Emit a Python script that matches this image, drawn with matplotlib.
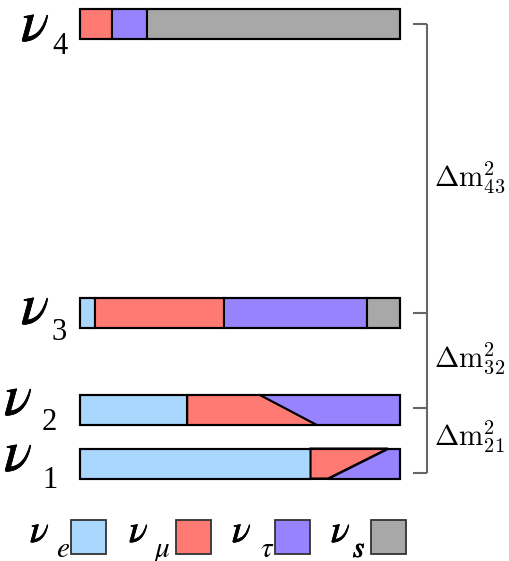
import matplotlib
matplotlib.use("Agg")
import matplotlib.pyplot as plt
from matplotlib.patches import Polygon, Rectangle
import matplotlib.patheffects as pe

plt.rcParams['mathtext.fontset'] = 'stix'

# ---- data ----
states = ["4", "3", "2", "1"]
flavor_subs = ["e", r"\mu", r"\tau", "s"]
colors = ["#a9d7fe", "#ff7a72", "#9883fe", "#a8a8a8"]
# flavour fractions (nu_e, nu_mu, nu_tau, nu_s) for the rows with plain segments
frac_nu4 = [0.0, 0.10, 0.107, 0.793]
frac_nu3 = [0.045, 0.405, 0.447, 0.103]
# rows with a CP-phase dependent mu/tau split: nu_e fraction, mu/tau boundary at top and bottom
nu2_e, nu2_split_top, nu2_split_bot = 0.334, 0.5625, 0.74
nu1_e, nu1_split_top, nu1_split_bot = 0.72, 0.9625, 0.775
splittings = ["43", "32", "21"]

# ---- layout ----
W, H = 510, 561
fig = plt.figure(figsize=(W / 100, H / 100), dpi=100)
x0_px, x1_px = 80.5, 400.0
ax = fig.add_axes([0, 0, 1, 1])
ax.set_xlim((0 - x0_px) / (x1_px - x0_px), (W - x0_px) / (x1_px - x0_px))
ax.set_ylim(H, 0)
ax.axis("off")
ov = fig.add_axes([0, 0, 1, 1], zorder=5)
ov.set_xlim(0, W)
ov.set_ylim(H, 0)
ov.axis("off")
ov.patch.set_alpha(0)

row_y = {"4": 24, "3": 313, "2": 410, "1": 463.5}
bar_h = 30
edge_lw = 1.5


def stacked(y, fr):
    left = 0.0
    for f, c in zip(fr, colors):
        if f > 0:
            ax.barh(y, f, left=left, height=bar_h, color=c, edgecolor="black", linewidth=edge_lw)
        left += f


def split_row(y, e, top, bot):
    t, b = y - bar_h / 2, y + bar_h / 2
    ax.barh(y, e, left=0, height=bar_h, color=colors[0], edgecolor="black", linewidth=edge_lw)
    ax.add_patch(Polygon([(e, t), (top, t), (bot, b), (e, b)], closed=True,
                         facecolor=colors[1], edgecolor="black", linewidth=edge_lw))
    ax.add_patch(Polygon([(top, t), (1, t), (1, b), (bot, b)], closed=True,
                         facecolor=colors[2], edgecolor="black", linewidth=edge_lw))
    ax.add_patch(Rectangle((0, t), 1, bar_h, fill=False, edgecolor="black", linewidth=edge_lw))


stacked(row_y["4"], frac_nu4)
stacked(row_y["3"], frac_nu3)
split_row(row_y["2"], nu2_e, nu2_split_top, nu2_split_bot)
split_row(row_y["1"], nu1_e, nu1_split_top, nu1_split_bot)
for k in ["4", "3"]:
    ax.add_patch(Rectangle((0, row_y[k] - bar_h / 2), 1, bar_h, fill=False,
                           edgecolor="black", linewidth=edge_lw))

serif = "Liberation Serif"
thick = [pe.withStroke(linewidth=0.5, foreground="black")]
# state labels: nu glyph + lowered subscript digit
nu_x = {"4": 21, "3": 21, "2": 4, "1": 4}
nu_base = {"4": 41, "3": 324, "2": 415, "1": 471}
sub_x = {"4": 52, "3": 52, "2": 42, "1": 42}
sub_base = {"4": 54, "3": 340, "2": 430, "1": 488}
for s in states:
    ov.text(nu_x[s], nu_base[s], r"$\nu$", fontsize=42, ha="left", va="baseline",
            path_effects=thick)
    ov.text(sub_x[s], sub_base[s], s, fontsize=22, family=serif, ha="left", va="baseline")

# bracket
bc = "#666666"
bx, tick_x = 427, 413
ticks = [24, 313, 408, 473]
ov.plot([bx, bx], [ticks[0], ticks[-1]], color=bc, lw=1.5, solid_capstyle="butt")
for ty in ticks:
    ov.plot([tick_x, bx], [ty, ty], color=bc, lw=1.5, solid_capstyle="butt")
dm_y = [186, 367, 446]
for lab, yy in zip(splittings, dm_y):
    ov.text(434, yy, r"$\Delta\mathrm{m}^2_{%s}$" % lab, fontsize=21, ha="left", va="baseline",
            math_fontfamily="cm")

# legend
leg_nu_x = [30, 129, 232, 331]
leg_sub_x = [56, 154, 260, 353]
leg_box_x = [71, 176, 275, 371]
for sub, c, nx, sx, bxx in zip(flavor_subs, colors, leg_nu_x, leg_sub_x, leg_box_x):
    ov.text(nx, 542, r"$\nu$", fontsize=28, ha="left", va="baseline", path_effects=thick)
    ov.text(sx, 557, r"$%s$" % sub, fontsize=21, ha="left", va="baseline",
            path_effects=[pe.withStroke(linewidth=0.6, foreground="black")] if sub == "s" else None)
    ov.add_patch(Rectangle((bxx, 520), 35, 34, facecolor=c, edgecolor="#333333", linewidth=1.3))

fig.savefig("out.png", dpi=100)
